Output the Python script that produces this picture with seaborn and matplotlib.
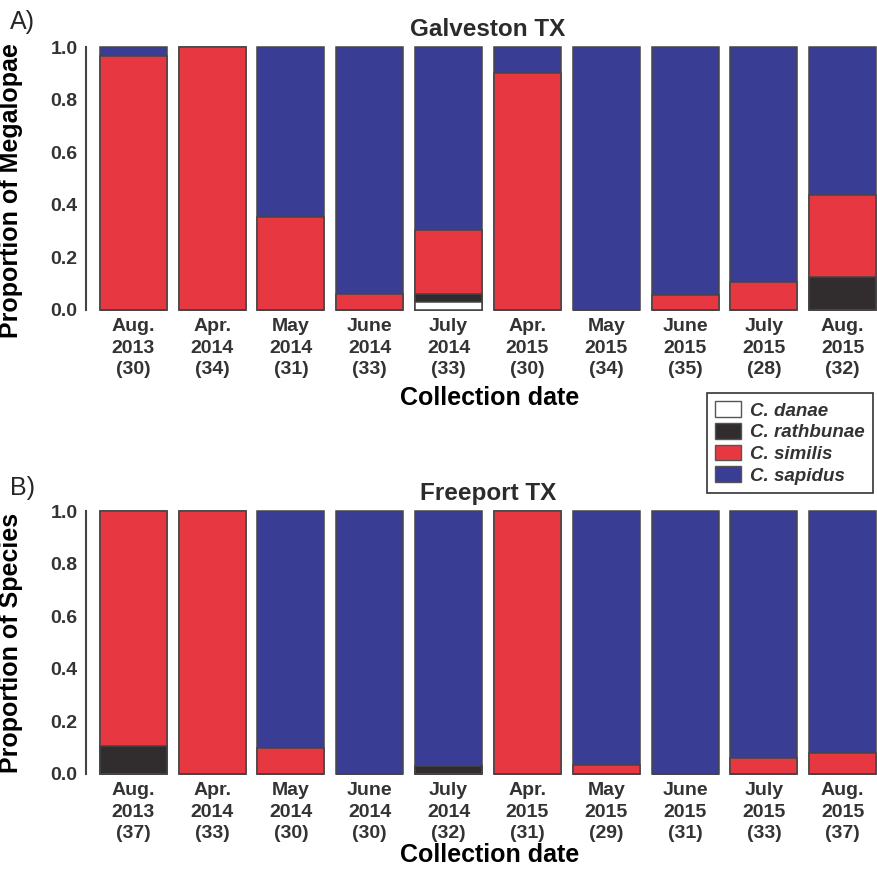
import matplotlib
matplotlib.use('Agg')
import matplotlib.pyplot as plt
from matplotlib.patches import Patch
import numpy as np
import pandas as pd
import seaborn as sns

# --- dati ---
dates = ["Aug.\n2013", "Apr.\n2014", "May\n2014", "June\n2014", "July\n2014",
         "Apr.\n2015", "May\n2015", "June\n2015", "July\n2015", "Aug.\n2015"]
species = ["C. danae", "C. rathbunae", "C. similis", "C. sapidus"]

# Galveston TX (conteggi per specie)
galv_danae = [0, 0, 0, 0, 1, 0, 0, 0, 0, 0]
galv_rathbunae = [0, 0, 0, 0, 1, 0, 0, 0, 0, 4]
galv_similis = [29, 34, 11, 2, 8, 27, 0, 2, 3, 10]
galv_sapidus = [1, 0, 20, 31, 23, 3, 34, 33, 25, 18]

# Freeport TX
free_danae = [0, 0, 0, 0, 0, 0, 0, 0, 0, 0]
free_rathbunae = [4, 0, 0, 0, 1, 0, 0, 0, 0, 0]
free_similis = [33, 33, 3, 0, 0, 31, 1, 0, 2, 3]
free_sapidus = [0, 0, 27, 30, 31, 0, 28, 31, 31, 34]

colors = {"C. danae": "#ffffff", "C. rathbunae": "#312d2e",
          "C. similis": "#e73841", "C. sapidus": "#3a3d94"}

sns.set_style("white")
plt.rcParams['font.family'] = ['Liberation Sans', 'DejaVu Sans']
plt.rcParams['font.weight'] = 'bold'


def build_df(counts):
    # counts: una lista per specie (ordine dal basso verso l'alto)
    arr = np.array(counts, dtype=float)
    n = arr.sum(axis=0)
    prop = arr / n
    cum = np.cumsum(prop, axis=0)
    labels = [f"{d}\n({int(k)})" for d, k in zip(dates, n)]
    rows = []
    for i, sp in enumerate(species):
        for j, lab in enumerate(labels):
            rows.append((lab, sp, prop[i, j], cum[i, j]))
    return pd.DataFrame(rows, columns=["date", "species", "prop", "top"]), labels


def draw_panel(ax, df, labels, title, ylabel, ylab_y, xlab_y):
    # disegno dall'alto verso il basso: ogni barra copre quelle sotto
    for sp in species[::-1]:
        sub = df[df.species == sp]
        sns.barplot(data=sub, x="date", y="top", order=labels, ax=ax,
                    color=colors[sp], saturation=1, width=0.85,
                    edgecolor="#454545", linewidth=1.1, errorbar=None)
    ax.set_ylim(0, 1.0)
    ax.set_xlim(-0.6, 9.435)
    for p in ax.patches:
        p.set_clip_on(False)
    ax.set_yticks([0, 0.2, 0.4, 0.6, 0.8, 1.0])
    ax.set_yticklabels(["0.0", "0.2", "0.4", "0.6", "0.8", "1.0"])
    ax.tick_params(axis='y', length=5, width=1.5, color="#444444", pad=1,
                   labelsize=14, labelcolor="#333333")
    ax.tick_params(axis='x', length=0, pad=6, labelsize=14, labelcolor="#333333")
    for t in ax.get_xticklabels():
        t.set_linespacing(1.33)
    for s in ["top", "right", "bottom"]:
        ax.spines[s].set_visible(False)
    ax.spines["left"].set_color("#444444")
    ax.spines["left"].set_linewidth(1.5)
    ax.set_title(title, fontsize=17.5, fontweight='bold', color="#2b2b2b", pad=8,
                 x=(488 - 86) / 791)
    ax.set_ylabel(ylabel, fontsize=18, fontweight='bold', color="black")
    ax.yaxis.set_label_coords((23 - 86) / 791, ylab_y)
    ax.set_xlabel("Collection date", fontsize=18, fontweight='bold', color="black")
    ax.xaxis.set_label_coords((490 - 86) / 791, xlab_y)


fig = plt.figure(figsize=(8.77, 8.76), dpi=100)
W, H = 877, 876
ax_a = fig.add_axes([86 / W, 1 - 310 / H, 791 / W, 263 / H])
ax_b = fig.add_axes([86 / W, 1 - 774 / H, 791 / W, 263 / H])

df_a, lab_a = build_df([galv_danae, galv_rathbunae, galv_similis, galv_sapidus])
df_b, lab_b = build_df([free_danae, free_rathbunae, free_similis, free_sapidus])

draw_panel(ax_a, df_a, lab_a, "Galveston TX", "Proportion of Megalopae", 0.456, -0.29)
draw_panel(ax_b, df_b, lab_b, "Freeport TX", "Proportion of Species", 0.5, -0.262)

fig.text(10 / W, 1 - 22 / H, "A)", fontsize=18, fontweight='normal', va='center')
fig.text(10 / W, 1 - 488 / H, "B)", fontsize=18, fontweight='normal', va='center')

handles = [Patch(facecolor=colors[sp], edgecolor="#555555", linewidth=1.0) for sp in species]
leg = fig.legend(handles, species, loc="upper right", bbox_to_anchor=(873 / W, 1 - 393 / H),
                 frameon=True, fancybox=False, handlelength=1.35, handleheight=0.9,
                 handletextpad=0.5, labelspacing=0.18, borderpad=0.45,
                 borderaxespad=0, prop={'size': 13.5, 'weight': 'bold', 'style': 'italic'})
leg.get_frame().set_edgecolor("black")
leg.get_frame().set_linewidth(1.2)
for t in leg.get_texts():
    t.set_color("#333333")

fig.savefig("out.png", dpi=100)
